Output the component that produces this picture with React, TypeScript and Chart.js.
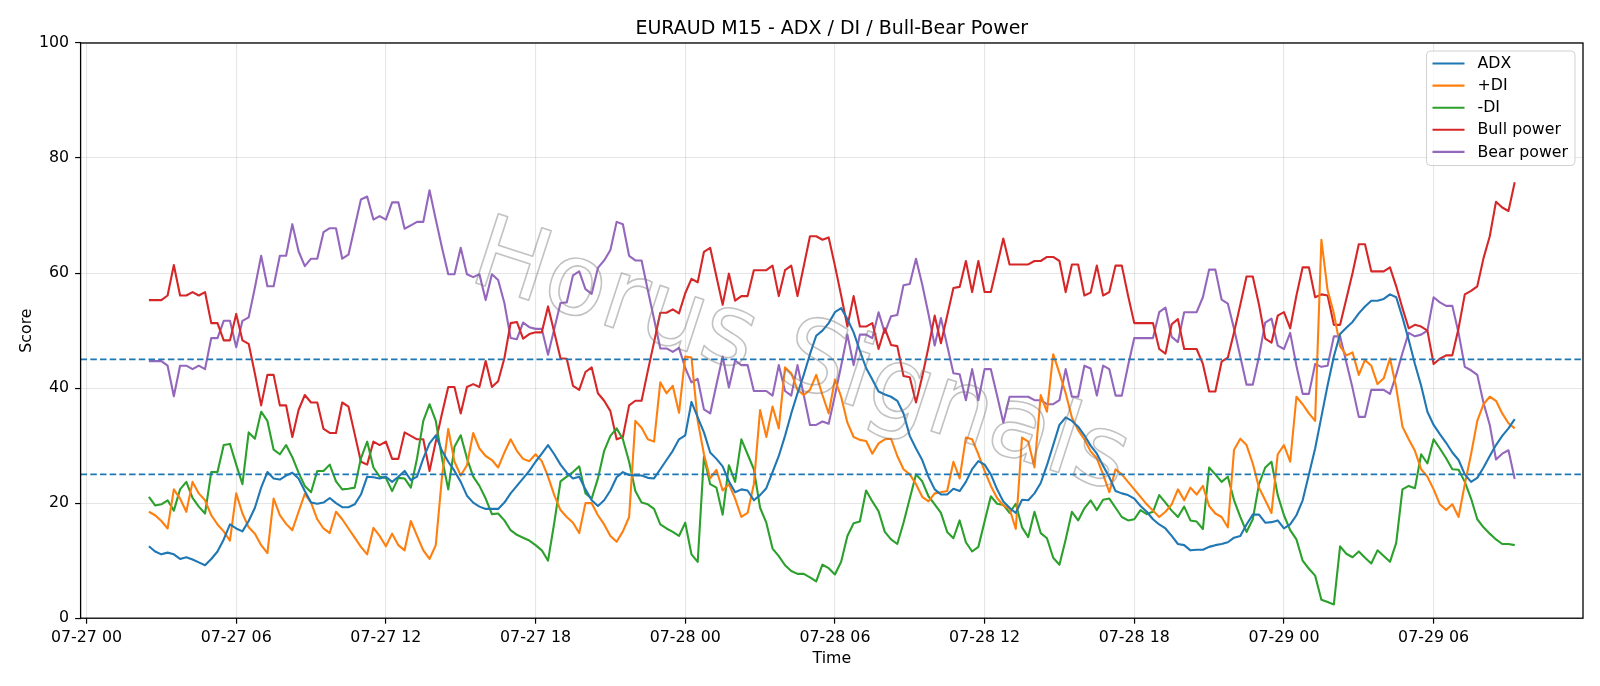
import React, { useEffect, useRef } from 'react';
import { Chart, registerables } from 'chart.js';

Chart.register(...registerables);

const FONT = "'DejaVu Sans', 'Liberation Sans', sans-serif";

const TITLE = 'EURAUD M15 - ADX / DI / Bull-Bear Power';
const X_TITLE = 'Time';
const Y_TITLE = 'Score';
const WATERMARK = 'Horus Signals';

// M15 bars, hours counted from 07-27 00:00
const FIRST_BAR_HOUR = 2.5;
const BAR_HOURS = 0.25;
const X_MIN = -0.2375;
const X_MAX = 59.9875;
const TICK_HOURS = [0, 6, 12, 18, 24, 30, 36, 42, 48, 54];
const TICK_LABELS = ['07-27 00', '07-27 06', '07-27 12', '07-27 18', '07-28 00', '07-28 06', '07-28 12', '07-28 18', '07-29 00', '07-29 06'];
const Y_TICKS = [0, 20, 40, 60, 80, 100];
const LEVELS = [45, 25];

const SERIES_NAMES = ['ADX', '+DI', '-DI', 'Bull power', 'Bear power'];
const SERIES_COLORS = ['#1f77b4', '#ff7f0e', '#2ca02c', '#d62728', '#9467bd'];

const ADX = [
  12.5, 11.6, 11.1, 11.4, 11.1, 10.3, 10.6, 10.2, 9.7, 9.2,
  10.3, 11.6, 13.7, 16.3, 15.6, 15.1, 16.9, 19.2, 22.7, 25.4,
  24.3, 24.1, 24.8, 25.3, 24.3, 22.1, 20.1, 19.9, 20.1, 20.9,
  20.0, 19.3, 19.3, 19.8, 21.5, 24.6, 24.5, 24.3, 24.6, 23.7,
  24.6, 25.6, 24.0, 24.6, 27.8, 30.4, 31.8, 29.1, 27.2, 25.6,
  23.7, 21.3, 20.1, 19.4, 19.0, 19.0, 19.0, 20.1, 21.7, 23.0,
  24.3, 25.6, 27.2, 28.6, 30.1, 28.5, 26.7, 25.3, 24.3, 24.6,
  22.4, 20.5, 19.5, 20.5, 22.2, 24.5, 25.4, 24.9, 24.8, 24.8,
  24.4, 24.3, 25.9, 27.5, 29.1, 31.1, 31.8, 37.6, 34.9, 32.3,
  28.8, 27.7, 26.4, 23.8, 21.9, 22.4, 22.2, 20.5, 21.4, 22.6,
  25.4, 28.2, 31.7, 35.6, 39.1, 42.3, 45.9, 49.1, 50.0, 51.3,
  53.2, 53.9, 52.0, 49.7, 46.5, 43.5, 41.5, 39.4, 38.9, 38.5,
  37.8, 35.6, 31.7, 29.5, 27.5, 24.6, 22.4, 21.5, 21.5, 22.5,
  22.1, 23.7, 25.9, 27.3, 26.7, 25.0, 22.4, 20.3, 19.2, 18.3,
  20.6, 20.5, 21.7, 23.5, 26.6, 30.1, 33.6, 34.9, 34.3, 33.3,
  31.8, 30.0, 28.6, 26.5, 24.5, 22.1, 21.7, 21.4, 20.8, 19.5,
  18.5, 17.2, 16.3, 15.6, 14.3, 12.9, 12.7, 11.8, 11.9, 11.9,
  12.4, 12.7, 12.9, 13.2, 14.0, 14.3, 16.3, 18.0, 18.0, 16.6,
  16.7, 17.0, 15.6, 16.3, 17.9, 20.5, 25.0, 29.5, 35.0, 40.5,
  45.5, 49.4, 50.5, 51.5, 53.0, 54.2, 55.2, 55.2, 55.5, 56.3,
  55.8, 52.3, 48.4, 44.2, 40.4, 35.9, 33.6, 32.0, 30.5, 28.8,
  27.5, 25.0, 23.7, 24.4, 26.2, 28.2, 30.1, 31.7, 33.0, 34.6,
];

const PLUS_DI = [
  18.5, 17.9, 16.9, 15.6, 22.4, 20.8, 18.5, 23.7, 21.7, 20.5,
  17.9, 16.3, 15.1, 13.5, 21.7, 18.2, 15.8, 14.7, 12.7, 11.3,
  20.8, 17.9, 16.4, 15.3, 18.5, 21.6, 20.1, 17.2, 15.6, 14.8,
  18.5, 17.2, 15.6, 14.0, 12.4, 11.1, 15.7, 14.3, 12.5, 14.7,
  12.7, 11.8, 16.9, 14.3, 11.8, 10.3, 12.7, 24.6, 32.9, 27.2,
  24.8, 26.6, 32.2, 29.5, 28.2, 27.5, 26.2, 28.8, 31.1, 29.1,
  27.7, 27.3, 28.5, 27.3, 24.6, 21.4, 18.8, 17.6, 16.6, 14.8,
  20.0, 20.0, 17.9, 16.3, 14.3, 13.3, 15.1, 17.6, 34.3, 33.1,
  31.1, 30.7, 41.0, 39.1, 40.4, 35.7, 45.5, 45.3, 34.3, 28.5,
  24.3, 25.8, 22.2, 23.3, 20.8, 17.6, 18.3, 23.3, 36.2, 31.5,
  36.8, 33.0, 43.6, 42.6, 39.7, 38.8, 39.7, 42.3, 38.8, 35.6,
  41.5, 38.5, 34.0, 31.5, 31.0, 30.8, 28.6, 30.4, 31.1, 31.2,
  28.2, 25.9, 25.0, 23.3, 21.1, 20.3, 21.7, 21.9, 22.1, 27.2,
  24.3, 31.4, 31.1, 28.5, 25.6, 23.0, 20.9, 19.6, 19.0, 15.5,
  31.4, 30.7, 26.2, 38.8, 35.9, 45.9, 42.6, 39.1, 34.9, 32.7,
  31.1, 29.0, 27.8, 25.0, 21.9, 25.9, 25.0, 23.7, 22.4, 21.1,
  19.8, 18.7, 17.6, 18.5, 19.8, 22.4, 20.5, 22.7, 21.5, 23.0,
  19.5, 18.2, 17.6, 15.8, 29.3, 31.2, 30.1, 26.9, 22.7, 20.5,
  18.3, 28.5, 30.1, 27.2, 38.5, 37.2, 35.6, 34.3, 65.8, 57.0,
  53.0, 47.3, 45.7, 46.2, 42.3, 44.9, 43.9, 40.7, 41.7, 45.2,
  40.1, 33.3, 31.1, 29.1, 25.9, 24.6, 22.4, 19.8, 18.8, 19.8,
  17.6, 23.3, 28.5, 34.3, 37.2, 38.5, 37.8, 35.6, 33.9, 33.0,
];

const MINUS_DI = [
  21.1, 19.6, 19.8, 20.5, 18.7, 22.4, 23.7, 20.9, 19.4, 18.2,
  25.4, 25.4, 30.1, 30.3, 26.7, 23.3, 32.3, 31.2, 35.9, 34.3,
  29.3, 28.5, 30.1, 28.0, 25.3, 23.0, 21.9, 25.6, 25.6, 26.7,
  23.8, 22.4, 22.5, 22.7, 27.8, 30.7, 26.2, 24.6, 24.4, 22.1,
  24.4, 24.3, 22.7, 27.8, 34.3, 37.2, 34.3, 27.8, 22.4, 29.8,
  31.8, 27.8, 24.6, 23.0, 20.8, 18.1, 18.2, 17.0, 15.3, 14.5,
  14.0, 13.5, 12.7, 11.8, 10.0, 16.6, 23.8, 24.6, 25.4, 26.4,
  21.7, 20.8, 24.3, 29.1, 31.7, 33.0, 31.1, 27.2, 22.1, 20.1,
  19.8, 19.0, 16.3, 15.6, 15.0, 14.3, 16.6, 11.1, 9.8, 28.1,
  23.3, 22.7, 18.0, 26.6, 23.7, 31.1, 28.5, 25.9, 19.2, 16.6,
  12.1, 10.8, 9.2, 8.2, 7.7, 7.7, 7.1, 6.4, 9.3, 8.7,
  7.6, 9.8, 14.3, 16.5, 16.8, 22.2, 20.3, 18.6, 15.0, 13.7,
  12.9, 16.6, 20.8, 25.0, 23.8, 21.2, 19.8, 18.3, 15.0, 13.9,
  17.0, 13.2, 11.6, 12.4, 16.8, 21.2, 19.9, 19.7, 18.3, 19.9,
  15.8, 14.1, 18.5, 14.8, 13.9, 10.5, 9.3, 13.7, 18.5, 17.0,
  19.1, 20.5, 18.8, 20.6, 20.8, 19.2, 17.6, 17.0, 17.2, 18.8,
  18.1, 18.5, 21.4, 20.1, 18.7, 17.6, 19.4, 17.0, 16.8, 15.5,
  26.2, 25.0, 23.7, 24.6, 20.5, 17.6, 15.0, 17.2, 23.3, 26.2,
  27.2, 21.4, 17.9, 15.3, 13.7, 10.0, 8.6, 7.4, 3.2, 2.8,
  2.4, 12.5, 11.2, 10.6, 11.6, 10.5, 9.5, 11.8, 10.8, 9.8,
  13.1, 22.4, 23.0, 22.6, 28.5, 26.9, 31.1, 29.5, 27.8, 25.9,
  25.8, 23.7, 20.8, 17.2, 15.8, 14.7, 13.7, 12.9, 12.9, 12.7,
];

const BULL_POWER = [
  55.3, 55.3, 55.3, 56.1, 61.4, 56.1, 56.1, 56.7, 56.1, 56.7,
  51.3, 51.3, 48.3, 48.3, 52.9, 48.3, 47.7, 42.5, 37.0, 42.3,
  42.3, 37.0, 37.0, 31.5, 36.2, 38.8, 37.5, 37.5, 32.9, 32.2,
  32.2, 37.5, 36.8, 32.0, 27.2, 26.7, 30.7, 30.1, 30.7, 27.7,
  27.7, 32.3, 31.7, 31.1, 31.1, 25.6, 30.7, 35.6, 40.2, 40.2,
  35.6, 40.2, 40.7, 40.2, 44.7, 40.2, 41.2, 45.2, 51.3, 51.5,
  48.6, 49.4, 49.7, 49.7, 54.2, 49.7, 45.2, 45.1, 40.4, 39.7,
  42.8, 43.6, 39.1, 37.8, 36.0, 31.1, 31.5, 37.0, 37.8, 37.8,
  43.0, 48.0, 53.1, 53.1, 53.7, 53.0, 56.5, 59.0, 58.4, 63.7,
  64.4, 59.4, 54.5, 59.9, 55.2, 56.0, 56.0, 60.5, 60.5, 60.5,
  61.3, 56.0, 60.5, 61.3, 56.0, 61.2, 66.4, 66.4, 65.8, 66.2,
  61.3, 56.1, 50.7, 56.0, 50.7, 50.7, 51.3, 46.8, 50.4, 47.5,
  47.3, 42.1, 41.9, 37.5, 42.0, 47.1, 52.6, 47.8, 52.6, 57.4,
  57.6, 62.1, 56.7, 62.1, 56.7, 56.7, 61.3, 66.0, 61.5, 61.5,
  61.5, 61.5, 62.1, 62.1, 62.8, 62.8, 62.1, 56.7, 61.5, 61.5,
  56.1, 56.6, 61.3, 56.1, 56.7, 61.3, 61.3, 56.1, 51.3, 51.3,
  51.3, 51.3, 46.8, 46.0, 51.1, 52.0, 46.8, 46.8, 46.8, 44.2,
  39.4, 39.4, 44.6, 45.3, 49.7, 54.5, 59.4, 59.4, 54.5, 48.6,
  47.9, 52.6, 53.2, 50.4, 56.1, 61.0, 61.0, 55.8, 56.3, 56.1,
  51.0, 51.0, 55.5, 60.0, 65.0, 65.0, 60.3, 60.3, 60.3, 61.0,
  57.7, 53.9, 50.4, 51.0, 50.7, 50.0, 44.2, 45.1, 45.7, 45.7,
  50.4, 56.3, 56.9, 57.7, 62.6, 66.4, 72.4, 71.4, 70.8, 75.8,
];

const BEAR_POWER = [
  44.7, 44.7, 44.7, 43.9, 38.6, 43.9, 43.9, 43.3, 43.9, 43.3,
  48.7, 48.7, 51.7, 51.7, 47.1, 51.7, 52.3, 57.5, 63.0, 57.7,
  57.7, 63.0, 63.0, 68.5, 63.8, 61.2, 62.5, 62.5, 67.1, 67.8,
  67.8, 62.5, 63.2, 68.0, 72.8, 73.3, 69.3, 69.9, 69.3, 72.3,
  72.3, 67.7, 68.3, 68.9, 68.9, 74.4, 69.3, 64.4, 59.8, 59.8,
  64.4, 59.8, 59.3, 59.8, 55.3, 59.8, 58.8, 54.8, 48.7, 48.5,
  51.4, 50.6, 50.3, 50.3, 45.8, 50.3, 54.8, 54.9, 59.6, 60.3,
  57.2, 56.4, 60.9, 62.2, 64.0, 68.9, 68.5, 63.0, 62.2, 62.2,
  57.0, 52.0, 46.9, 46.9, 46.3, 47.0, 43.5, 41.0, 41.6, 36.3,
  35.6, 40.6, 45.5, 40.1, 44.8, 44.0, 44.0, 39.5, 39.5, 39.5,
  38.7, 44.0, 39.5, 38.7, 44.0, 38.8, 33.6, 33.6, 34.2, 33.8,
  38.7, 43.9, 49.3, 44.0, 49.3, 49.3, 48.7, 53.2, 49.6, 52.5,
  52.7, 57.9, 58.1, 62.5, 58.0, 52.9, 47.4, 52.2, 47.4, 42.6,
  42.4, 37.9, 43.3, 37.9, 43.3, 43.3, 38.7, 34.0, 38.5, 38.5,
  38.5, 38.5, 37.9, 37.9, 37.2, 37.2, 37.9, 43.3, 38.5, 38.5,
  43.9, 43.4, 38.7, 43.9, 43.3, 38.7, 38.7, 43.9, 48.7, 48.7,
  48.7, 48.7, 53.2, 54.0, 48.9, 48.0, 53.2, 53.2, 53.2, 55.8,
  60.6, 60.6, 55.4, 54.7, 50.3, 45.5, 40.6, 40.6, 45.5, 51.4,
  52.1, 47.4, 46.8, 49.6, 43.9, 39.0, 39.0, 44.2, 43.7, 43.9,
  49.0, 49.0, 44.5, 40.0, 35.0, 35.0, 39.7, 39.7, 39.7, 39.0,
  42.3, 46.1, 49.6, 49.0, 49.3, 50.0, 55.8, 54.9, 54.3, 54.3,
  49.6, 43.7, 43.1, 42.3, 37.4, 33.6, 27.6, 28.6, 29.2, 24.2,
];

const SERIES_VALUES = [ADX, PLUS_DI, MINUS_DI, BULL_POWER, BEAR_POWER];

// Hour offset of every bar on the time axis
const BAR_TIMES = ADX.map((_, i) => FIRST_BAR_HOUR + i * BAR_HOURS);

const GRID_COLOR = 'rgba(176,176,176,0.32)';

const decorPlugin = {
  id: 'decor',
  beforeDraw(chart: any) {
    const { ctx, width, height } = chart;
    ctx.save();
    ctx.fillStyle = '#ffffff';
    ctx.fillRect(0, 0, width, height);
    ctx.restore();
  },
  afterDatasetsDraw(chart: any) {
    const { ctx, chartArea: a, scales } = chart;
    ctx.save();

    // dashed reference levels
    ctx.beginPath();
    ctx.rect(a.left, a.top, a.right - a.left, a.bottom - a.top);
    ctx.clip();
    ctx.strokeStyle = '#1f77b4';
    ctx.lineWidth = 1.6;
    ctx.setLineDash([6.5, 3.2]);
    LEVELS.forEach((v) => {
      const y = scales.y.getPixelForValue(v);
      ctx.beginPath();
      ctx.moveTo(a.left, y);
      ctx.lineTo(a.right, y);
      ctx.stroke();
    });
    ctx.restore();

    ctx.save();
    // axes frame
    ctx.strokeStyle = '#000000';
    ctx.lineWidth = 1.3;
    ctx.strokeRect(a.left, a.top, a.right - a.left, a.bottom - a.top);

    // legend box
    const lx = 1426.5;
    const ly = 51;
    const lw = 148.5;
    const lh = 114.5;
    const r = 4;
    ctx.beginPath();
    ctx.moveTo(lx + r, ly);
    ctx.lineTo(lx + lw - r, ly);
    ctx.arcTo(lx + lw, ly, lx + lw, ly + r, r);
    ctx.lineTo(lx + lw, ly + lh - r);
    ctx.arcTo(lx + lw, ly + lh, lx + lw - r, ly + lh, r);
    ctx.lineTo(lx + r, ly + lh);
    ctx.arcTo(lx, ly + lh, lx, ly + lh - r, r);
    ctx.lineTo(lx, ly + r);
    ctx.arcTo(lx, ly, lx + r, ly, r);
    ctx.closePath();
    ctx.fillStyle = 'rgba(255,255,255,0.8)';
    ctx.fill();
    ctx.strokeStyle = 'rgba(204,204,204,0.9)';
    ctx.lineWidth = 1;
    ctx.stroke();

    ctx.font = `15.8px ${FONT}`;
    ctx.textAlign = 'left';
    ctx.textBaseline = 'middle';
    SERIES_NAMES.forEach((name, k) => {
      const y = 63.5 + 22.1 * k;
      ctx.strokeStyle = SERIES_COLORS[k];
      ctx.lineWidth = 2.1;
      ctx.beginPath();
      ctx.moveTo(1432.5, y);
      ctx.lineTo(1464.5, y);
      ctx.stroke();
      ctx.fillStyle = '#000000';
      ctx.fillText(name, 1477.5, y + 0.5);
    });

    // title and axis titles
    ctx.fillStyle = '#000000';
    ctx.textBaseline = 'alphabetic';
    ctx.textAlign = 'center';
    const cx = (a.left + a.right) / 2;
    ctx.font = `19px ${FONT}`;
    ctx.fillText(TITLE, cx, 33.5);
    ctx.font = `15.8px ${FONT}`;
    ctx.fillText(X_TITLE, cx, 662.5);
    ctx.save();
    ctx.translate(31.3, (a.top + a.bottom) / 2);
    ctx.rotate(-Math.PI / 2);
    ctx.fillText(Y_TITLE, 0, 0);
    ctx.restore();
    ctx.restore();
  },
  afterDraw(chart: any) {
    const { ctx } = chart;
    ctx.save();
    ctx.translate(800, 360);
    ctx.rotate((18 * Math.PI) / 180);
    ctx.font = `100px ${FONT}`;
    ctx.textAlign = 'center';
    ctx.textBaseline = 'alphabetic';
    ctx.strokeStyle = 'rgba(120,120,120,0.45)';
    ctx.lineWidth = 1.6;
    ctx.lineJoin = 'round';
    ctx.strokeText(WATERMARK, 0, 27);
    ctx.restore();
  },
};

export default function App() {
  const canvasRef = useRef<HTMLCanvasElement | null>(null);

  useEffect(() => {
    document.body.style.margin = '0';
    const canvas = canvasRef.current;
    if (!canvas) return;

    const chart = new Chart(canvas, {
      type: 'line',
      data: {
        datasets: SERIES_VALUES.map((values, k) => ({
          label: SERIES_NAMES[k],
          data: values.map((v, i) => ({ x: BAR_TIMES[i], y: v })),
          borderColor: SERIES_COLORS[k],
          backgroundColor: SERIES_COLORS[k],
          borderWidth: 2.1,
          borderJoinStyle: 'round',
          pointRadius: 0,
          pointHoverRadius: 0,
          tension: 0,
          fill: false,
        })),
      },
      options: {
        responsive: false,
        animation: false,
        devicePixelRatio: 1,
        events: [],
        layout: { padding: { top: 43, right: 17, bottom: 0, left: 0 } },
        plugins: {
          legend: { display: false },
          title: { display: false },
          tooltip: { enabled: false },
        },
        scales: {
          x: {
            type: 'linear',
            min: X_MIN,
            max: X_MAX,
            afterBuildTicks: (scale: any) => {
              scale.ticks = TICK_HOURS.map((v) => ({ value: v }));
            },
            afterFit: (scale: any) => {
              scale.height = 67.8;
            },
            ticks: {
              autoSkip: false,
              maxRotation: 0,
              minRotation: 0,
              color: '#000000',
              padding: 5,
              font: { family: FONT, size: 15.8 },
              callback: (value: any) => {
                const k = TICK_HOURS.indexOf(Number(value));
                return k >= 0 ? TICK_LABELS[k] : '';
              },
            },
            grid: {
              color: GRID_COLOR,
              lineWidth: 1.1,
              tickColor: '#000000',
              tickLength: 5.5,
              tickWidth: 1.2,
            },
            border: { display: false },
          },
          y: {
            type: 'linear',
            min: 0,
            max: 100,
            afterBuildTicks: (scale: any) => {
              scale.ticks = Y_TICKS.map((v) => ({ value: v }));
            },
            afterFit: (scale: any) => {
              scale.width = 80.6;
            },
            ticks: {
              color: '#000000',
              padding: 6,
              font: { family: FONT, size: 15.8 },
              callback: (value: any) => String(value),
            },
            grid: {
              color: GRID_COLOR,
              lineWidth: 1.1,
              tickColor: '#000000',
              tickLength: 5.5,
              tickWidth: 1.2,
            },
            border: { display: false },
          },
        },
      } as any,
      plugins: [decorPlugin],
    });

    return () => chart.destroy();
  }, []);

  return (
    <div style={{ width: 1600, height: 686 }}>
      <canvas ref={canvasRef} width={1600} height={686} style={{ display: 'block' }} />
    </div>
  );
}
